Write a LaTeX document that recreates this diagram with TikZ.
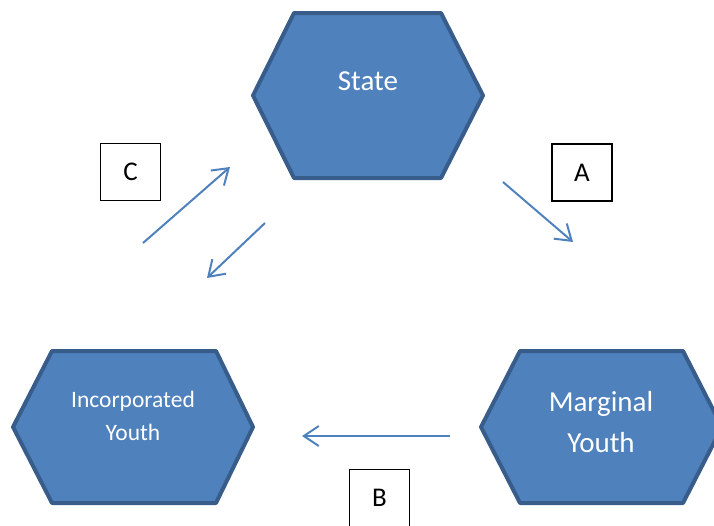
\documentclass[tikz,border=0pt]{standalone}
\usepackage{fontspec}
\setmainfont{Carlito}
\usetikzlibrary{arrows.meta}
\definecolor{hexfill}{HTML}{4F81BD}
\definecolor{hexline}{HTML}{385D8A}
\begin{document}
\begin{tikzpicture}[x=1pt,y=-1pt,
  hexa/.style={fill=hexfill, draw=hexline, line width=4pt, line join=round},
  hexlabel/.style={text=white, align=center, inner sep=0pt},
  letterbox/.style={draw=black, line width=1.6pt, minimum width=60pt, minimum height=57pt, inner sep=0pt, font=\fontsize{27}{30}\selectfont},
  flow/.style={draw=hexfill, line width=2pt, -{Straight Barb[length=15pt,width=20pt]}}]
\useasboundingbox (0,0) rectangle (714,525);
\clip (0,0) rectangle (714,525);
% hexagons
\draw[hexa] (253,95.5) -- (294,13) -- (441,13) -- (483,95.5) -- (441,178) -- (294,178) -- cycle;
\draw[hexa] (13,427) -- (52,351) -- (216,351) -- (253,427) -- (216,503) -- (52,503) -- cycle;
\draw[hexa] (481,427) -- (520,351) -- (683,351) -- (722,427) -- (683,503) -- (520,503) -- cycle;
\node[hexlabel, font=\fontsize{29}{34}\selectfont] (state) at (368,81) {State};
\node[hexlabel, font=\fontsize{23.5}{33}\selectfont] (incorp) at (133,416) {Incorporated\\Youth};
\node[hexlabel, font=\fontsize{29}{41}\selectfont] (marg) at (601,422) {Marginal\\Youth};
% labels
\node[letterbox] (lc) at (130.5,172) {C};
\node[letterbox] (la) at (582,172.5) {A};
\node[letterbox] (lb) at (379.5,498) {B};
% arrows
\coordinate (a1) at (503,182);
\coordinate (a2) at (573,242);
\coordinate (b1) at (450,436);
\coordinate (b2) at (302,436);
\coordinate (c1) at (143,243);
\coordinate (c2) at (230,167);
\coordinate (c3) at (265,223);
\coordinate (c4) at (207,278);
\draw[flow] (a1) -- (a2);
\draw[flow] (b1) -- (b2);
\draw[flow] (c1) -- (c2);
\draw[flow] (c3) -- (c4);
\end{tikzpicture}
\end{document}
